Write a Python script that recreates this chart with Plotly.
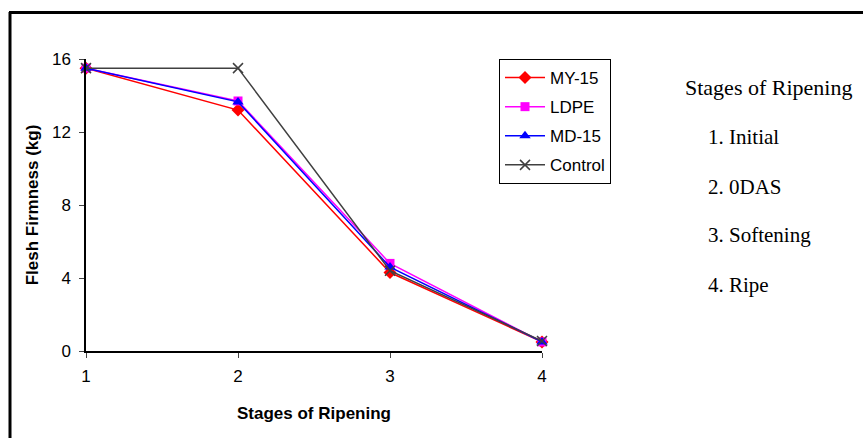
import plotly.graph_objects as go

stages = [1, 2, 3, 4]
my15 = [15.5, 13.2, 4.3, 0.5]
ldpe = [15.5, 13.7, 4.8, 0.5]
md15 = [15.5, 13.65, 4.6, 0.5]
control = [15.5, 15.5, 4.4, 0.55]

series_names = ["MY-15", "LDPE", "MD-15", "Control"]
stage_labels = ["1. Initial", "2. 0DAS", "3. Softening", "4. Ripe"]
y_ticks = [0, 4, 8, 12, 16]

W, H = 863, 438
L, R, T, B = 86, 542, 59, 351
pw, ph = R - L, B - T

def px(x):
    return (x - L) / pw

def py(y):
    return (B - y) / ph

styles = [
    dict(color="#ff0000", symbol="diamond", size=10),
    dict(color="#ff00ff", symbol="square", size=9),
    dict(color="#0000ff", symbol="triangle-up", size=10),
    dict(color="#404040", symbol="x-thin", size=10),
]

fig = go.Figure()
for i, (name, vals) in enumerate(zip(series_names, [my15, ldpe, md15, control])):
    st = styles[i]
    marker = dict(color=st["color"], symbol=st["symbol"], size=st["size"])
    if st["symbol"] == "x-thin":
        marker["line"] = dict(color=st["color"], width=1.5)
    fig.add_trace(go.Scatter(
        x=stages, y=vals, name=name, mode="lines+markers",
        line=dict(color=st["color"], width=1.5),
        marker=marker, legendgroup=name, cliponaxis=False,
    ))

fig.update_layout(
    width=W, height=H,
    margin=dict(l=L, r=W - R, t=T, b=H - B),
    paper_bgcolor="white", plot_bgcolor="white",
    font=dict(family="Arial, Liberation Sans", size=17, color="black"),
    showlegend=True,
    legend=dict(
        x=px(499), y=1.0, xanchor="left", yanchor="top",
        bordercolor="black", borderwidth=1, bgcolor="white",
        font=dict(size=17), tracegroupgap=4, itemwidth=40,
    ),
    xaxis=dict(
        range=[1, 4], tickvals=stages, ticks="outside", ticklen=5,
        showline=True, linecolor="black", linewidth=1.5, showgrid=False,
        zeroline=False, tickfont=dict(size=17), ticklabelstandoff=4,
        title=dict(text="<b>Stages of Ripening</b>", font=dict(size=17), standoff=22),
    ),
    yaxis=dict(
        range=[0, 16], tickvals=y_ticks, ticks="outside", ticklen=5,
        showline=True, linecolor="black", linewidth=1.5, showgrid=False,
        zeroline=False, tickfont=dict(size=17), ticklabelstandoff=5,
        title=dict(text="<b>Flesh Firmness (kg)</b>", font=dict(size=17), standoff=9),
    ),
)

# outer frame (left and top)
fig.add_shape(type="line", xref="paper", yref="paper",
              x0=px(10), x1=px(10), y0=py(12), y1=py(440),
              line=dict(color="black", width=3))
fig.add_shape(type="line", xref="paper", yref="paper",
              x0=px(9), x1=px(870), y0=py(12.5), y1=py(12.5),
              line=dict(color="black", width=3))

serif = "Liberation Serif, Times New Roman, serif"
fig.add_annotation(xref="paper", yref="paper", x=px(683), y=py(88),
                   xanchor="left", yanchor="middle", showarrow=False,
                   text="Stages of Ripening", font=dict(family=serif, size=22, color="black"))
for lab, yy in zip(stage_labels, [137, 187, 235, 285]):
    fig.add_annotation(xref="paper", yref="paper", x=px(706), y=py(yy),
                       xanchor="left", yanchor="middle", showarrow=False,
                       text=lab, font=dict(family=serif, size=21, color="black"))

fig.write_html("out.html")
